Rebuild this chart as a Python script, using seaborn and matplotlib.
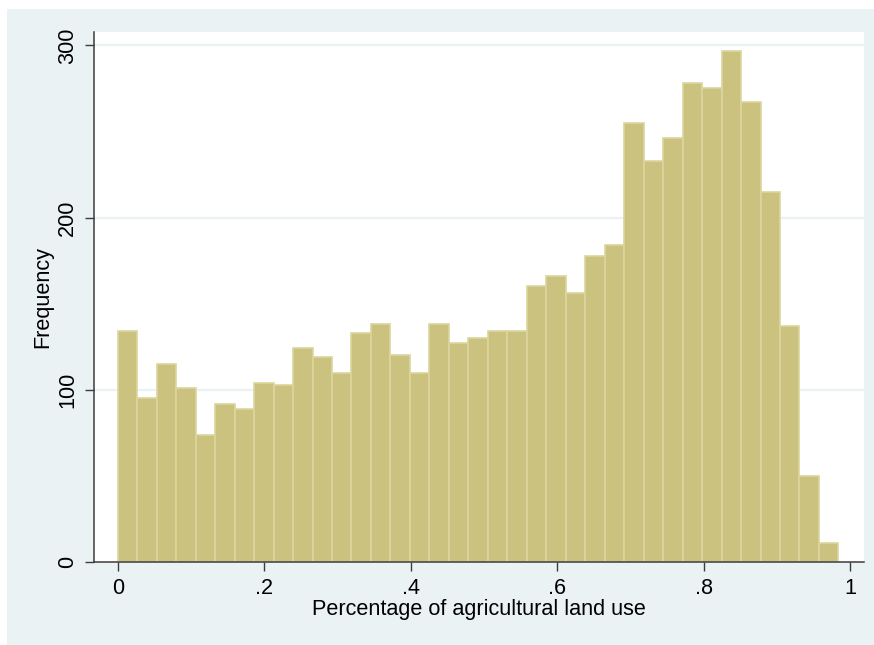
import numpy as np
import pandas as pd
import matplotlib
matplotlib.use("Agg")
import matplotlib.pyplot as plt
import seaborn as sns
from matplotlib.patches import Rectangle

# ---- data ----
freqs = [134, 95, 115, 101, 74, 92, 89, 104, 103, 124, 119, 110, 133, 138, 120,
         110, 138, 127, 130, 134, 134, 160, 166, 156, 178, 184, 255, 233, 246,
         278, 275, 297, 267, 215, 137, 50, 11]
bin_min = 0.0
bin_max = 0.984
xticks = [0, 0.2, 0.4, 0.6, 0.8, 1.0]
xticklabels = ["0", ".2", ".4", ".6", ".8", "1"]
yticks = [0, 100, 200, 300]
yticklabels = ["0", "100", "200", "300"]
xlabel = "Percentage of agricultural land use"
ylabel = "Frequency"

edges = np.linspace(bin_min, bin_max, len(freqs) + 1)
centers = (edges[:-1] + edges[1:]) / 2
df = pd.DataFrame({"x": centers, "w": freqs})

sns.set_theme(style="white")
plt.rcParams["font.family"] = ["Liberation Sans", "DejaVu Sans"]

W, H = 874, 645
fig = plt.figure(figsize=(W / 100, H / 100), dpi=100, facecolor="white")
fig.patches.append(Rectangle((7 / W, 0), 1 - 7 / W, 1 - 9 / H,
                             transform=fig.transFigure, facecolor="#eaf2f3",
                             edgecolor="none", zorder=-10))

left, right, top, bottom = 94, 864, 32, 562
ax = fig.add_axes([left / W, 1 - bottom / H, (right - left) / W, (bottom - top) / H])
ax.set_facecolor("white")

for y in yticks[1:]:
    ax.axhline(y, color="#eaf2f3", lw=1.6, zorder=0)

sns.histplot(data=df, x="x", weights="w", bins=len(freqs),
             binrange=(bin_min, bin_max), ax=ax,
             color="#cac27e", alpha=1, edgecolor="#dcd69e", linewidth=1.2,
             zorder=2)

ax.set_xlim(-0.0324, 1.0189)
ax.set_ylim(0, 307.8)

ax.set_xticks(xticks)
ax.set_xticklabels(xticklabels)
ax.set_yticks(yticks)
ax.set_yticklabels(yticklabels, rotation=90, va="center")

ax.tick_params(axis="both", which="major", direction="out", length=6.5,
               width=1.0, color="#3c3c3c", labelsize=15.6, labelcolor="black",
               left=True, bottom=True, pad=5)

for s in ["top", "right"]:
    ax.spines[s].set_visible(False)
for s in ["left", "bottom"]:
    ax.spines[s].set_color("#3c3c3c")
    ax.spines[s].set_linewidth(1.1)

ax.set_xlabel(xlabel, fontsize=15.6, color="black", labelpad=0)
ax.set_ylabel(ylabel, fontsize=15.6, color="black", labelpad=3)

fig.savefig("out.png", dpi=100, facecolor="white")
